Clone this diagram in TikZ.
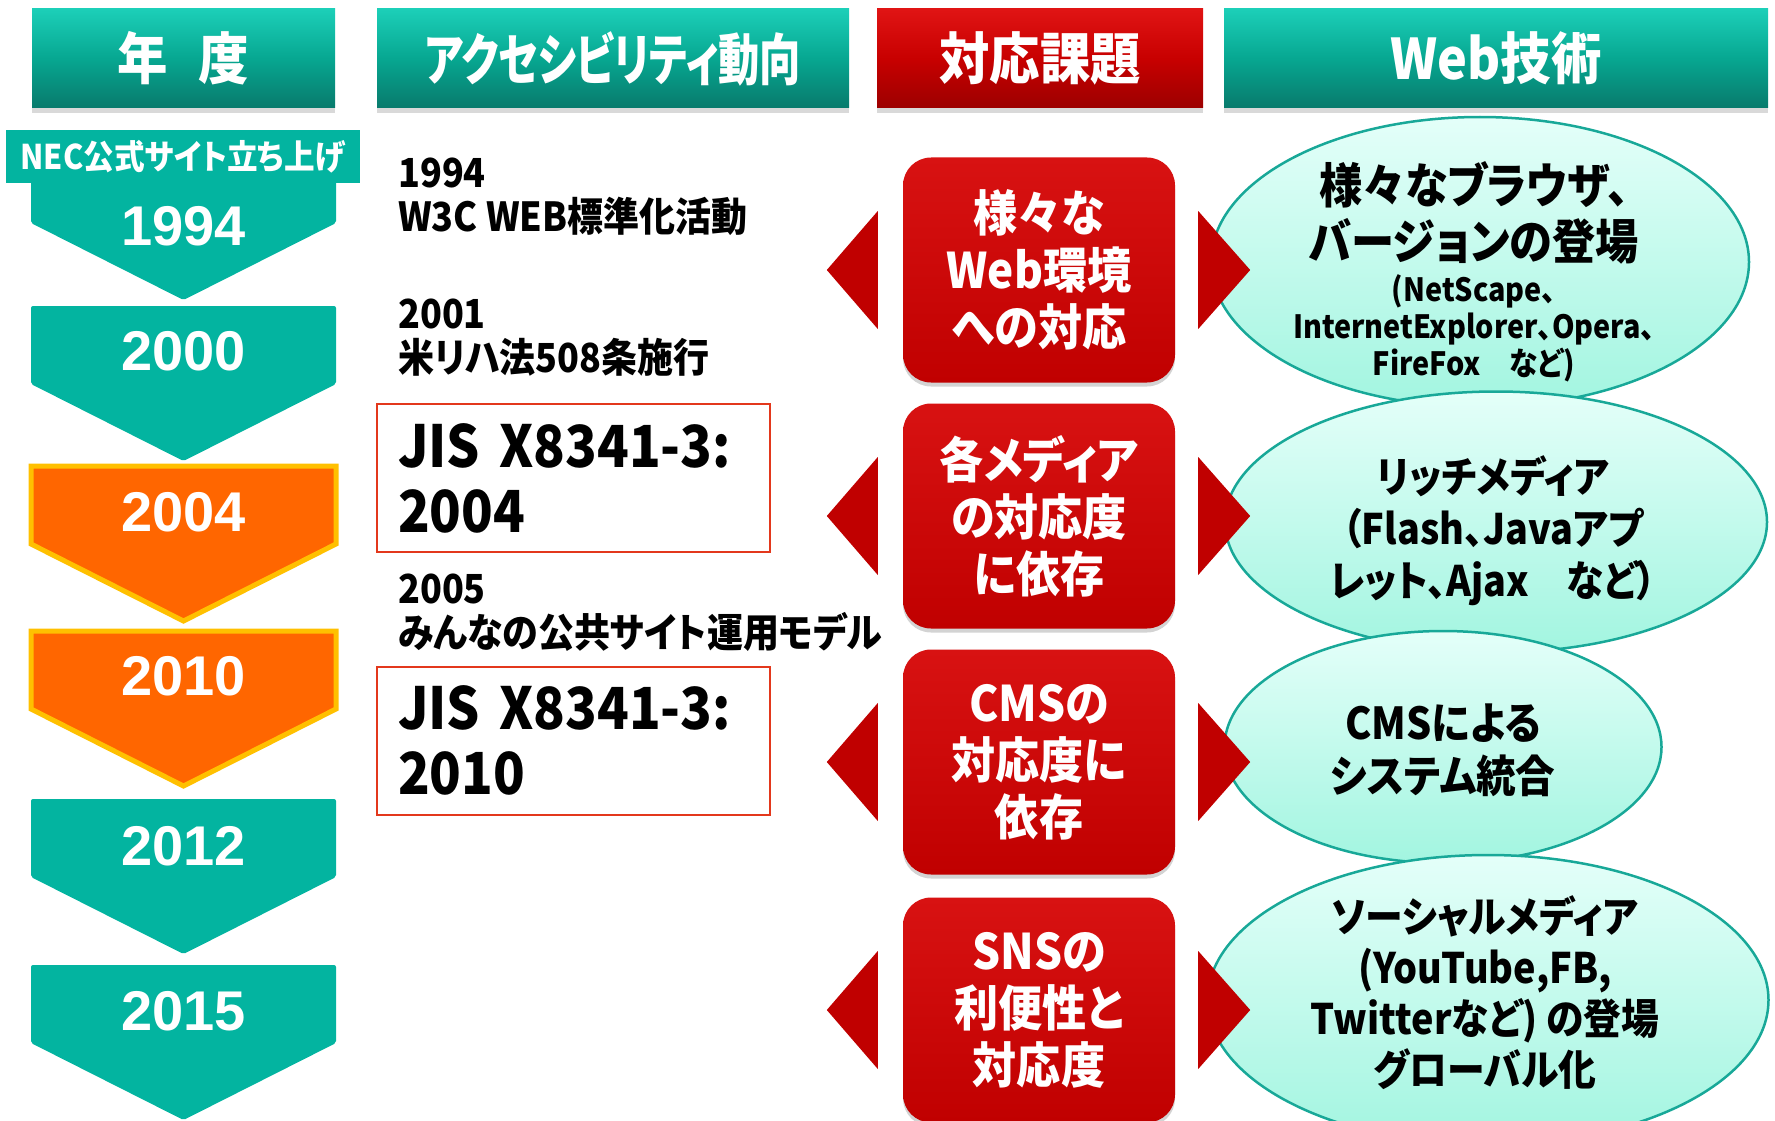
\documentclass[tikz,border=0pt]{standalone}
\usepackage{fontspec}
\setmainfont{Noto Sans CJK JP}[RawFeature=+palt, FakeStretch=0.9]
\newfontfamily\yearfont{Liberation Sans}
\usetikzlibrary{shapes.geometric,shadows,calc}

\definecolor{tealmain}{HTML}{03B4A0}
\definecolor{tealtop}{HTML}{1CCFB8}
\definecolor{tealmid}{HTML}{07A791}
\definecolor{tealbot}{HTML}{087A6C}
\definecolor{redtop}{HTML}{E01414}
\definecolor{redmid}{HTML}{C80000}
\definecolor{redbot}{HTML}{9C0000}
\definecolor{boxtop}{HTML}{D81212}
\definecolor{boxbot}{HTML}{C00000}
\definecolor{trired}{HTML}{C00000}
\definecolor{orangefill}{HTML}{FF6600}
\definecolor{orangeline}{HTML}{FFC000}
\definecolor{jisred}{HTML}{E3381C}
\definecolor{elltop}{HTML}{E4FFF9}
\definecolor{ellbot}{HTML}{A2F5E0}
\definecolor{elledge}{HTML}{18A898}

\tikzset{
  hdbox/.style={minimum height=99pt, inner sep=0pt, text=white,
    font=\bfseries\fontsize{56}{60}\selectfont,
    drop shadow={opacity=0.3, shadow xshift=0pt, shadow yshift=-5pt}},
  tealhead/.style={hdbox, top color=tealtop, bottom color=tealbot, middle color=tealmid},
  redhead/.style={hdbox, top color=redtop, bottom color=redbot, middle color=redmid},
  yteal/.style={fill=tealmain, rounded corners=2pt},
  yorange/.style={fill=orangefill, draw=orangeline, line width=5pt},
  yeartext/.style={text=white, font=\yearfont\bfseries\fontsize{56}{60}\selectfont},
  necbox/.style={fill=tealmain, text=white, minimum width=354pt, minimum height=53pt,
    inner sep=0pt, font=\bfseries\fontsize{34}{40}\selectfont},
  trend/.style={anchor=west, align=left, inner sep=0pt,
    font=\bfseries\fontsize{40}{44}\selectfont},
  jisbox/.style={draw=jisred, line width=2pt, minimum width=393pt, minimum height=148pt,
    text width=351pt, inner xsep=21pt, align=left,
    font=\bfseries\fontsize{58}{65}\selectfont},
  task/.style={rounded corners=28pt, top color=boxtop, bottom color=boxbot,
    minimum width=272pt, minimum height=225pt, inner sep=0pt, text=white, align=center,
    font=\bfseries\fontsize{49}{57}\selectfont,
    drop shadow={opacity=0.35, shadow xshift=0pt, shadow yshift=-4pt}},
  techell/.style={ellipse, draw=elledge, line width=2.5pt, inner sep=0pt,
    top color=elltop, bottom color=ellbot},
  techtext/.style={align=center, inner sep=0pt, font=\bfseries}
}

\begin{document}
\begin{tikzpicture}[x=1pt,y=-1pt]
\useasboundingbox (0,0) rectangle (1775,1121);

% column headers
\node[tealhead, minimum width=303pt] (hyear) at (183.5,58.5) {年\hspace{0.55em}度};
\node[tealhead, minimum width=472pt] (htrend) at (613,58.5) {\scalebox{0.82}[1]{アクセシビリティ動向}};
\node[redhead, minimum width=326pt] (htask) at (1040,58.5) {対応課題};
\node[tealhead, minimum width=544pt] (hweb) at (1496,58.5) {Web技術};

% year chevrons
\foreach \yr/\top/\ty/\kind in {1994/145/226/yteal, 2000/306/351/yteal, 2004/466/512/yorange,
    2010/631/676/yorange, 2012/799/846/yteal, 2015/965/1011/yteal}{
  \path[\kind] (31,\top) -- (336,\top) -- (336,\top+78) -- (183.5,\top+155) -- (31,\top+78) -- cycle;
  \node[yeartext] (y\yr) at (183.5,\ty) {\yr};
}
\node[necbox] (nec) at (183,156.5) {NEC公式サイト立ち上げ};

% accessibility trend
\node[trend] (w3c) at (398,196.5) {1994\\W3C WEB標準化活動};
\node[trend] (ada) at (398,337.5) {2001\\米リハ法508条施行};
\node[jisbox] (jis2004) at (573.5,478) {JIS X8341-3:\\2004};
\node[trend] (model) at (398,612.5) {2005\\みんなの公共サイト運用モデル};
\node[jisbox] (jis2010) at (573.5,740.5) {JIS X8341-3:\\2010};

% web technology
\node[techell, minimum width=538pt, minimum height=290pt] (e1) at (1480,262) {};
\node[techell, minimum width=542pt, minimum height=261pt] (e2) at (1496,522) {};
\node[techell, minimum width=437pt, minimum height=232pt] (e3) at (1443,747) {};
\node[techell, minimum width=561pt, minimum height=290pt] (e4) at (1488,1000) {};
\node[techtext, font=\bfseries\fontsize{48}{56}\selectfont] (web1) at (1474,213)
  {様々なブラウザ、\\バージョンの登場};
\node[techtext, font=\bfseries\fontsize{32}{37}\selectfont] (web1b) at (1474,328)
  {(NetScape、\\InternetExplorer、Opera、\\FireFox　など)};
\node[techtext, font=\bfseries\fontsize{42}{52}\selectfont] (web2) at (1493,531)
  {リッチメディア\\（Flash、Javaアプ\\レット、Ajax　など）};
\node[techtext, font=\bfseries\fontsize{44}{53}\selectfont] (web3) at (1443,750)
  {CMSによる\\システム統合};
\node[techtext, font=\bfseries\fontsize{42}{51}\selectfont] (web4) at (1485,993)
  {ソーシャルメディア\\(YouTube,FB,\\Twitterなど) の登場\\グローバル化};

% tasks
\node[task] (task1) at (1039,270) {様々な\\Web環境\\への対応};
\node[task] (task2) at (1039,516) {各メディア\\の対応度\\に依存};
\node[task] (task3) at (1039,762) {CMSの\\対応度に\\依存};
\node[task] (task4) at (1039,1010) {SNSの\\利便性と\\対応度};
\foreach \k in {1,...,4}{
  \fill[trired] ($(task\k.west)+(-25,-59)$) -- ($(task\k.west)+(-25,59)$) -- ($(task\k.west)+(-76,0)$) -- cycle;
  \fill[trired] ($(task\k.east)+(23,-59)$) -- ($(task\k.east)+(23,59)$) -- ($(task\k.east)+(75,0)$) -- cycle;
}
\end{tikzpicture}
\end{document}
